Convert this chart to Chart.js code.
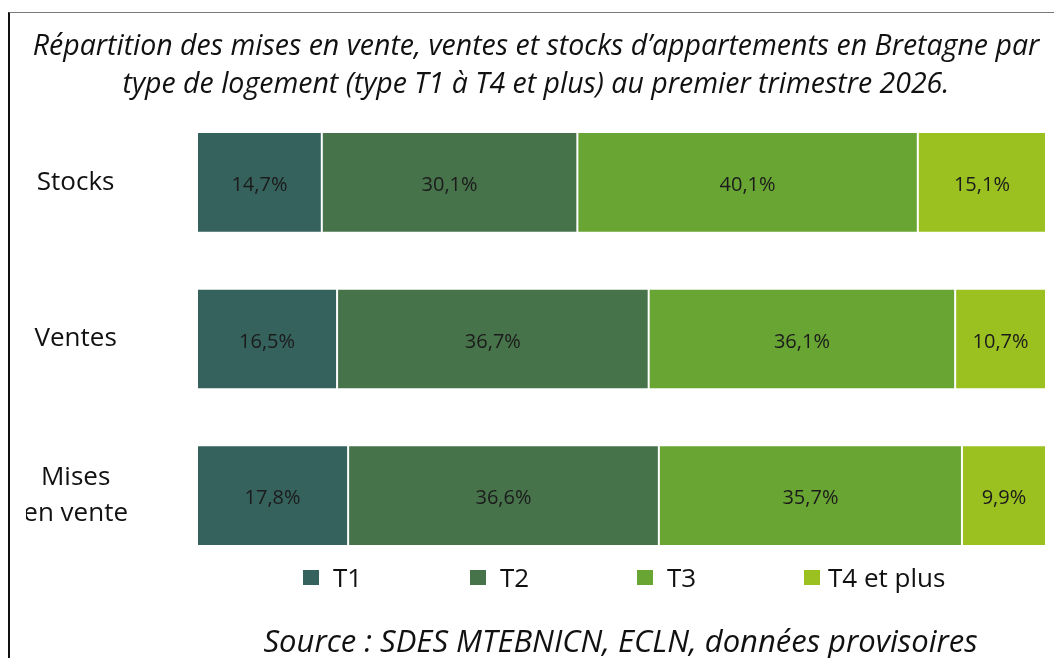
<!DOCTYPE html>
<html>
<head>
<meta charset="utf-8">
<script src="https://cdn.jsdelivr.net/npm/chart.js@4/dist/chart.umd.min.js"></script>
<style>
html,body{margin:0;padding:0;background:#fff;width:1054px;height:658px;overflow:hidden;font-family:"Open Sans",sans-serif;color:#111;}
#frame{position:absolute;left:8px;top:12px;width:1046px;height:646px;border-top:1px solid #7a7a7a;border-left:2px solid #111;box-sizing:border-box;}
#wrap{position:absolute;left:10px;top:13px;width:1044px;height:645px;}
#legend{position:absolute;top:564px;left:303px;height:26px;display:flex;align-items:center;font-size:26px;}
.item{display:flex;align-items:center;width:167px;white-space:nowrap;}
.item:last-child{width:auto;}
.item:last-child .box{margin-right:8px;}
.box{width:16px;height:15px;margin-right:14px;flex:none;}
#source{position:absolute;left:150px;width:941px;top:620px;text-align:center;font-style:italic;font-size:31px;line-height:40px;white-space:nowrap;}
</style>
</head>
<body>
<div id="frame"></div>
<div id="wrap"><canvas id="c" width="1044" height="645"></canvas></div>
<div id="legend"></div>
<div id="source"></div>
<script>
const titleLines = [
  "Répartition des mises en vente, ventes et stocks d’appartements en Bretagne par",
  "type de logement (type T1 à T4 et plus) au premier trimestre 2026."
];
const sourceText = "Source : SDES MTEBNICN, ECLN, données provisoires";
const categories = ["Stocks", "Ventes", ["Mises", "en vente"]];
const seriesNames = ["T1", "T2", "T3", "T4 et plus"];
const t1Values = [14.7, 16.5, 17.8];
const t2Values = [30.1, 36.7, 36.6];
const t3Values = [40.1, 36.1, 35.7];
const t4Values = [15.1, 10.7, 9.9];
const seriesColors = ["#35625c", "#47734b", "#68a533", "#9bc121"];

const allValues = [t1Values, t2Values, t3Values, t4Values];

const datasets = seriesNames.map((name, i) => ({
  label: name,
  data: allValues[i],
  backgroundColor: seriesColors[i],
  borderColor: "rgba(255,255,255,0.35)",
  borderWidth: 1,
  borderSkipped: false,
  categoryPercentage: 0.643,
  barPercentage: 1
}));

const valueLabels = {
  id: "valueLabels",
  afterDatasetsDraw(chart) {
    const ctx = chart.ctx;
    ctx.save();
    ctx.font = '20px "Open Sans"';
    ctx.fillStyle = "#1b1b1b";
    ctx.textAlign = "center";
    ctx.textBaseline = "middle";
    chart.data.datasets.forEach((ds, i) => {
      chart.getDatasetMeta(i).data.forEach((bar, j) => {
        const p = bar.getProps(["x", "base", "y"], true);
        ctx.fillText(ds.data[j].toFixed(1).replace(".", ",") + "%", (p.x + p.base) / 2, p.y + 3);
      });
    });
    ctx.restore();
  }
};

new Chart(document.getElementById("c"), {
  type: "bar",
  data: { labels: categories, datasets: datasets },
  plugins: [valueLabels],
  options: {
    indexAxis: "y",
    responsive: false,
    animation: false,
    layout: { padding: { left: 16, right: 8, top: 0, bottom: 84 } },
    plugins: {
      legend: { display: false },
      tooltip: { enabled: false },
      title: {
        display: true,
        text: titleLines,
        color: "#111",
        font: { family: "Open Sans", size: 28.5, style: "italic", weight: "normal", lineHeight: 38 / 28.5 },
        padding: { top: 15, bottom: 0 }
      }
    },
    scales: {
      x: { stacked: true, min: 0, max: 100, display: false },
      y: {
        stacked: true,
        grid: { display: false },
        border: { display: false },
        ticks: {
          crossAlign: "center",
          padding: 61,
          color: "#111",
          font: { family: "Open Sans", size: 26, lineHeight: 36 / 26 }
        },
        afterFit(scale) {
          scale.width = 171;
          scale.paddingTop = 0;
          scale.paddingBottom = 0;
        }
      }
    }
  }
});

const legendEl = document.getElementById("legend");
seriesNames.forEach((name, i) => {
  const item = document.createElement("div");
  item.className = "item";
  const box = document.createElement("span");
  box.className = "box";
  box.style.background = seriesColors[i];
  const txt = document.createElement("span");
  txt.textContent = name;
  item.appendChild(box);
  item.appendChild(txt);
  legendEl.appendChild(item);
});
document.getElementById("source").textContent = sourceText;
</script>
</body>
</html>
